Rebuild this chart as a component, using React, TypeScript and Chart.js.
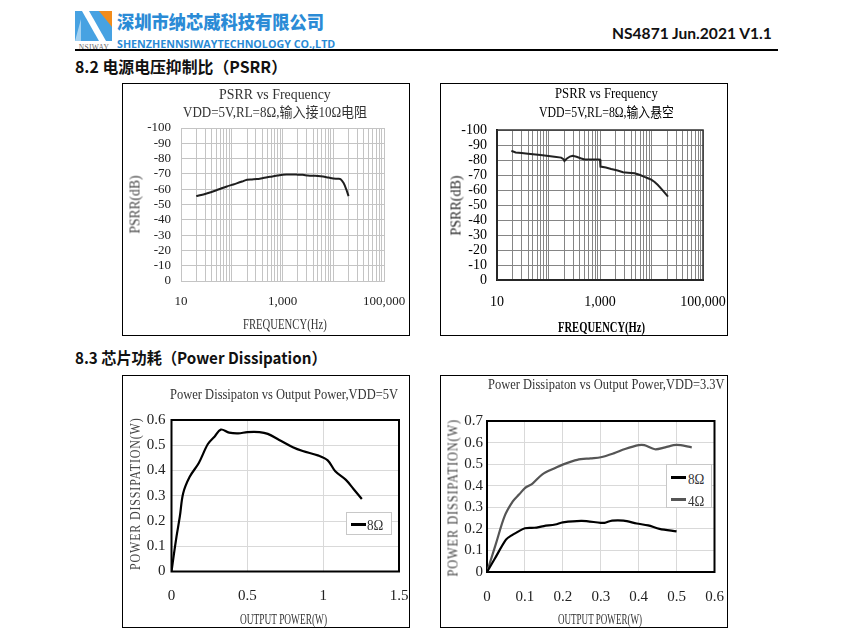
import React, { useEffect, useLayoutEffect, useRef } from 'react';
import { Chart, registerables } from 'chart.js';
Chart.register(...registerables);

// ---------------- DATA ----------------
// PSRR, VDD=5V, RL=8Ω, input via 10Ω
const psrrInFreq = [20, 25, 32, 40, 50, 63, 80, 100, 125, 160, 200, 250, 315, 400, 500, 630, 800, 1000, 1250, 1600, 2000, 2500, 3150, 4000, 5000, 6300, 8000, 10000, 12500, 14000, 16000, 18000, 20000];
const psrrInDb = [-55.5, -56.2, -57.2, -58.2, -59.3, -60.6, -61.8, -62.8, -63.8, -65, -66.2, -66.4, -66.6, -67.2, -67.8, -68.3, -68.9, -69.5, -69.6, -69.6, -69.5, -69.4, -69, -68.8, -68.7, -68.3, -67.6, -67, -66.8, -66.5, -64, -60, -55.5];

// PSRR, VDD=5V, RL=8Ω, input floating
const psrrOpenFreq = [19, 20, 23, 30, 40, 50, 70, 100, 130, 176, 195, 204, 225, 260, 295, 350, 420, 500, 700, 950, 1000, 1020, 1300, 1650, 2200, 2800, 3500, 4700, 6000, 7300, 8500, 9900, 11500, 13300, 16500, 20900];
const psrrOpenDb = [-86, -85.8, -85, -84.7, -84.2, -83.8, -83.3, -82.7, -82.2, -81.6, -80.6, -79.3, -80.8, -82.3, -82.8, -82.2, -81.2, -80.4, -80.4, -80.4, -80.3, -75.6, -75, -74, -73, -71.8, -71.5, -71.1, -70, -68.7, -67.8, -66.9, -65.3, -63.3, -59.8, -55.6];

// Power dissipation, VDD=5V, 8Ω
const pd5Out = [0, 0.015, 0.033, 0.055, 0.077, 0.12, 0.18, 0.24, 0.285, 0.325, 0.38, 0.44, 0.5, 0.58, 0.635, 0.71, 0.8, 0.865, 0.97, 1.03, 1.08, 1.15, 1.2, 1.255];
const pd5Diss = [0, 0.065, 0.138, 0.218, 0.31, 0.375, 0.43, 0.505, 0.535, 0.562, 0.55, 0.547, 0.552, 0.552, 0.545, 0.521, 0.492, 0.477, 0.459, 0.44, 0.397, 0.363, 0.327, 0.287];

// Power dissipation, VDD=3.3V
const pd33Out8 = [0, 0.02, 0.05, 0.065, 0.08, 0.1, 0.125, 0.15, 0.18, 0.2, 0.25, 0.3, 0.31, 0.33, 0.36, 0.395, 0.425, 0.455, 0.5];
const pd33Diss8 = [0, 0.06, 0.15, 0.17, 0.185, 0.203, 0.205, 0.213, 0.22, 0.23, 0.237, 0.228, 0.228, 0.238, 0.238, 0.225, 0.216, 0.2, 0.188];
const pd33Out4 = [0, 0.024, 0.046, 0.068, 0.085, 0.1, 0.12, 0.146, 0.177, 0.203, 0.238, 0.273, 0.3, 0.334, 0.364, 0.4, 0.415, 0.443, 0.47, 0.5, 0.54];
const pd33Diss4 = [0, 0.134, 0.257, 0.327, 0.36, 0.389, 0.41, 0.453, 0.48, 0.5, 0.52, 0.527, 0.532, 0.55, 0.57, 0.588, 0.588, 0.569, 0.578, 0.589, 0.578];

// tick labels
const freqLabelValues = [10, 1000, 100000];
const freqLabelTexts = ['10', '1,000', '100,000'];
const freqDecades = [10, 100, 1000, 10000];
const freqMultipliers = [1, 2, 3, 4, 5, 6, 7, 8, 9];
const pd5XLabels = ['0', '0.5', '1', '1.5'];
const pd5YLabels = ['0', '0.1', '0.2', '0.3', '0.4', '0.5', '0.6'];
const pd33XLabels = ['0', '0.1', '0.2', '0.3', '0.4', '0.5', '0.6'];
const pd33YLabels = ['0', '0.1', '0.2', '0.3', '0.4', '0.5', '0.6', '0.7'];
const psrrYLabels = ['-100', '-90', '-80', '-70', '-60', '-50', '-40', '-30', '-20', '-10', '0'];

// ---------------- HELPERS ----------------
const SERIF = "'Liberation Serif', 'Noto Sans CJK SC', serif";
const CJK = "'Noto Sans CJK SC', sans-serif";
const W = 288, H = 253;

const logGridTicks = (() => {
  const arr: number[] = [];
  freqDecades.forEach((d) => freqMultipliers.forEach((m) => arr.push(m * d)));
  arr.push(100000);
  return arr;
})();

const toXY = (xs: number[], ys: number[]) => xs.map((x, i) => ({ x, y: ys[i] }));

type Rect = { l: number; r: number; t: number; b: number };

function baseOpts(p: Rect, xScale: any, yScale: any) {
  return {
    responsive: false,
    animation: false,
    devicePixelRatio: 1,
    events: [],
    layout: { padding: { left: 0, top: p.t, right: W - p.r, bottom: 0 } },
    plugins: { legend: { display: false }, tooltip: { enabled: false }, title: { display: false } },
    elements: { point: { radius: 0 } },
    scales: {
      x: {
        ...xScale,
        afterFit: (s: any) => { s.height = H - p.b; s.paddingLeft = 0; s.paddingRight = 0; },
      },
      y: {
        ...yScale,
        afterFit: (s: any) => { s.width = p.l; s.paddingTop = 0; s.paddingBottom = 0; },
      },
    },
  };
}

const framePlugin = (color: string, width: number) => ({
  id: 'frame',
  beforeDatasetsDraw(chart: any) {
    const { ctx, chartArea: a } = chart;
    ctx.save();
    ctx.strokeStyle = color;
    ctx.lineWidth = width;
    ctx.strokeRect(a.left, a.top, a.right - a.left, a.bottom - a.top);
    ctx.restore();
  },
});

function ChartCanvas({ left, top, make }: { left: number; top: number; make: () => any }) {
  const ref = useRef<HTMLCanvasElement>(null);
  useEffect(() => {
    const c = new Chart(ref.current as HTMLCanvasElement, make());
    return () => c.destroy();
  }, []);
  return <canvas ref={ref} width={W} height={H} style={{ position: 'absolute', left, top, width: W, height: H }} />;
}

type TP = {
  x: number; y: number; w: number; text: string; size: number; font?: string; weight?: number | string;
  color?: string; align?: 'left' | 'center'; rot?: boolean; ls?: number;
};
function T({ x, y, w, text, size, font = SERIF, weight = 400, color = '#1a1a1a', align = 'center', rot = false, ls = 0 }: TP) {
  const ref = useRef<HTMLSpanElement>(null);
  useLayoutEffect(() => {
    const el = ref.current;
    if (!el) return;
    const nat = el.offsetWidth;
    if (nat > 0) el.style.transform = `scaleX(${w / nat})`;
  });
  const h = Math.round(size * 1.5);
  const outer: React.CSSProperties = {
    position: 'absolute',
    left: align === 'center' || rot ? x - w / 2 : x,
    top: y - h / 2,
    width: w,
    height: h,
    lineHeight: h + 'px',
    whiteSpace: 'nowrap',
    textAlign: 'left',
    transform: rot ? 'rotate(-90deg)' : undefined,
    transformOrigin: 'center center',
  };
  return (
    <div style={outer}>
      <span
        ref={ref}
        style={{ display: 'inline-block', fontFamily: font, fontSize: size, fontWeight: weight as any, color, letterSpacing: ls, transformOrigin: 'left center' }}
      >
        {text}
      </span>
    </div>
  );
}

const Box = ({ l, t }: { l: number; t: number }) => (
  <div style={{ position: 'absolute', left: l, top: t, width: W - 2, height: H - 2, border: '1px solid #000' }} />
);

// ---------------- CHART CONFIGS ----------------
const psrrX = (gridColor: string, font: any, color: string, pad: number, border: any) => ({
  type: 'logarithmic',
  min: 10,
  max: 100000,
  afterBuildTicks: (s: any) => { s.ticks = logGridTicks.map((v) => ({ value: v })); },
  ticks: {
    autoSkip: false, maxRotation: 0, minRotation: 0, padding: pad, font, color,
    callback: (v: number) => { const i = freqLabelValues.indexOf(v); return i >= 0 ? freqLabelTexts[i] : ''; },
  },
  grid: { color: gridColor, lineWidth: 1, drawTicks: false },
  border,
});
const psrrY = (gridColor: string, font: any, color: string, pad: number, border: any) => ({
  type: 'linear', min: -100, max: 0, reverse: true,
  ticks: { stepSize: 10, padding: pad, font, color, autoSkip: false,
    callback: (v: number) => psrrYLabels[Math.round((v + 100) / 10)] },
  grid: { color: gridColor, lineWidth: 1, drawTicks: false },
  border,
});

const makeTL = () => {
  const font = { family: SERIF, size: 13 };
  const g = '#c4c4c4';
  return {
    type: 'line',
    data: { datasets: [{ data: toXY(psrrInFreq, psrrInDb), borderColor: '#1e1e1e', borderWidth: 2, tension: 0.3, pointRadius: 0 }] },
    options: baseOpts({ l: 59, r: 262, t: 45, b: 198 },
      psrrX(g, font, '#222', 13, { display: true, color: g }),
      psrrY(g, font, '#222', 10, { display: true, color: g })),
  };
};

const makeTR = () => {
  const font = { family: SERIF, size: 14 };
  const g = '#858585';
  return {
    type: 'line',
    data: { datasets: [{ data: toXY(psrrOpenFreq, psrrOpenDb), borderColor: '#222', borderWidth: 2, tension: 0, pointRadius: 0 }] },
    options: baseOpts({ l: 57, r: 263, t: 47, b: 197 },
      psrrX(g, font, '#000', 13.5, { display: true, color: '#000', width: 2 }),
      psrrY(g, font, '#000', 10, { display: true, color: '#000', width: 2 })),
    plugins: [framePlugin('#333', 1.5)],
  };
};

const pdFont = { family: SERIF, size: 15 };
const makeBL = () => ({
  type: 'line',
  data: { datasets: [{ data: toXY(pd5Out, pd5Diss), borderColor: '#000', borderWidth: 2.2, tension: 0.35, pointRadius: 0 }] },
  options: baseOpts({ l: 49.5, r: 277, t: 45, b: 196.5 },
    {
      type: 'linear', min: 0, max: 1.5,
      ticks: { stepSize: 0.5, padding: 16, font: pdFont, color: '#222', maxRotation: 0, autoSkip: false,
        callback: (_v: number, i: number) => pd5XLabels[i] },
      grid: { color: '#d9d9d9', drawTicks: false }, border: { display: false },
    },
    {
      type: 'linear', min: 0, max: 0.6,
      ticks: { stepSize: 0.1, padding: 6, font: pdFont, color: '#222', autoSkip: false,
        callback: (_v: number, i: number) => pd5YLabels[i] },
      grid: { color: '#d9d9d9', drawTicks: false }, border: { display: false },
    }),
  plugins: [framePlugin('#000', 2)],
});

const makeBR = () => ({
  type: 'line',
  data: {
    datasets: [
      { data: toXY(pd33Out8, pd33Diss8), borderColor: '#000', borderWidth: 2.2, tension: 0.3, pointRadius: 0 },
      { data: toXY(pd33Out4, pd33Diss4), borderColor: '#555', borderWidth: 2.2, tension: 0.3, pointRadius: 0 },
    ],
  },
  options: baseOpts({ l: 47, r: 274.5, t: 46, b: 197 },
    {
      type: 'linear', min: 0, max: 0.6,
      ticks: { stepSize: 0.1, padding: 16, font: pdFont, color: '#222', maxRotation: 0, autoSkip: false,
        callback: (_v: number, i: number) => pd33XLabels[i] },
      grid: { color: '#d9d9d9', drawTicks: false }, border: { display: false },
    },
    {
      type: 'linear', min: 0, max: 0.7,
      ticks: { stepSize: 0.1, padding: 4, font: pdFont, color: '#222', autoSkip: false,
        callback: (_v: number, i: number) => pd33YLabels[i] },
      grid: { color: '#d9d9d9', drawTicks: false }, border: { display: false },
    }),
  plugins: [framePlugin('#000', 2)],
});

// ---------------- APP ----------------
export default function App() {
  return (
    <div style={{ position: 'absolute', left: 0, top: 0, width: 850, height: 637, background: '#fff', overflow: 'hidden' }}>
      {/* header logo */}
      <svg style={{ position: 'absolute', left: 75, top: 11 }} width={40} height={40} viewBox="0 0 40 40">
        <rect x={0} y={0} width={37} height={30} fill="#47a2e2" />
        <polygon points="7,0 14,0 31,30 24,30" fill="#ffffff" />
        <polygon points="24,0 37,0 37,16" fill="#f28c1c" />
        <polygon points="0,30 6,30 6,8" fill="#ffffff" opacity={0.5} />
        <text x={19} y={38.5} fontSize={7.5} textAnchor="middle" fill="#6b6b6b" fontFamily={SERIF} letterSpacing={0.3}>NSIWAY</text>
      </svg>
      <T x={117} y={21} w={207} size={18} align="left" font={CJK} weight={900} color="#2b8bd6" text="深圳市纳芯威科技有限公司" />
      <T x={117} y={42} w={218} size={11} align="left" font="'Open Sans', sans-serif" weight={700} color="#2b8bd6" text="SHENZHENNSIWAYTECHNOLOGY CO.,LTD" />
      <T x={612} y={33} w={160} size={15} align="left" font="Lato, 'Open Sans', sans-serif" weight={700} color="#111" text="NS4871 Jun.2021 V1.1" />
      <div style={{ position: 'absolute', left: 75, top: 49, width: 703, height: 2, background: '#000' }} />
      <T x={75} y={66} w={212} size={16} align="left" font={CJK} weight={700} color="#111" text="8.2 电源电压抑制比（PSRR）" />
      <T x={75} y={357} w={252} size={16} align="left" font={CJK} weight={700} color="#111" text="8.3 芯片功耗（Power Dissipation）" />

      {/* Top-left PSRR */}
      <Box l={122} t={83} />
      <ChartCanvas left={122} top={83} make={makeTL} />
      <T x={275} y={93} w={112} size={14} color="#333" text="PSRR vs Frequency" />
      <T x={275} y={111} w={184} size={14} color="#333" text="VDD=5V,RL=8Ω,输入接10Ω电阻" />
      <T x={134} y={204} w={58} size={14} rot color="#444" text="PSRR(dB)" />
      <T x={285} y={323} w={84} size={14} color="#333" text="FREQUENCY(Hz)" />

      {/* Top-right PSRR */}
      <Box l={440} t={83} />
      <ChartCanvas left={440} top={83} make={makeTR} />
      <T x={606} y={92} w={103} size={14} color="#000" text="PSRR vs Frequency" />
      <T x={606} y={111} w={135} size={14} color="#000" text="VDD=5V,RL=8Ω,输入悬空" />
      <T x={455} y={205} w={60} size={14} rot color="#222" text="PSRR(dB)" />
      <T x={601} y={326} w={87} size={14} color="#000" weight={700} text="FREQUENCY(Hz)" />

      {/* Bottom-left power dissipation */}
      <Box l={122} t={375} />
      <ChartCanvas left={122} top={375} make={makeBL} />
      <T x={284} y={393} w={228} size={14} color="#333" text="Power Dissipaton vs Output Power,VDD=5V" />
      <T x={134} y={493} w={153} size={14} rot ls={1} color="#444" text="POWER DISSIPATION(W)" />
      <T x={283.5} y={618} w={87} size={14} color="#333" text="OUTPUT POWER(W)" />
      <div style={{ position: 'absolute', left: 346, top: 512, width: 44, height: 21, border: '1px solid #c8c8c8', background: '#fff' }} />
      <div style={{ position: 'absolute', left: 351, top: 523, width: 15, height: 3, background: '#000' }} />
      <T x={367} y={524} w={16} size={14} align="left" color="#333" text="8Ω" />

      {/* Bottom-right power dissipation */}
      <Box l={440} t={375} />
      <ChartCanvas left={440} top={375} make={makeBR} />
      <T x={606.5} y={383} w={237} size={14} color="#333" text="Power Dissipaton vs Output Power,VDD=3.3V" />
      <T x={452} y={497} w={158} size={14} rot ls={1} color="#444" text="POWER DISSIPATION(W)" />
      <T x={600} y={618} w={84} size={14} color="#333" text="OUTPUT POWER(W)" />
      <div style={{ position: 'absolute', left: 666, top: 464, width: 44, height: 42, border: '1px solid #c8c8c8', background: '#fff' }} />
      <div style={{ position: 'absolute', left: 671, top: 476, width: 15, height: 3, background: '#000' }} />
      <T x={688} y={478} w={16} size={14} align="left" color="#333" text="8Ω" />
      <div style={{ position: 'absolute', left: 671, top: 498, width: 15, height: 3, background: '#555' }} />
      <T x={688} y={500} w={16} size={14} align="left" color="#333" text="4Ω" />
    </div>
  );
}
